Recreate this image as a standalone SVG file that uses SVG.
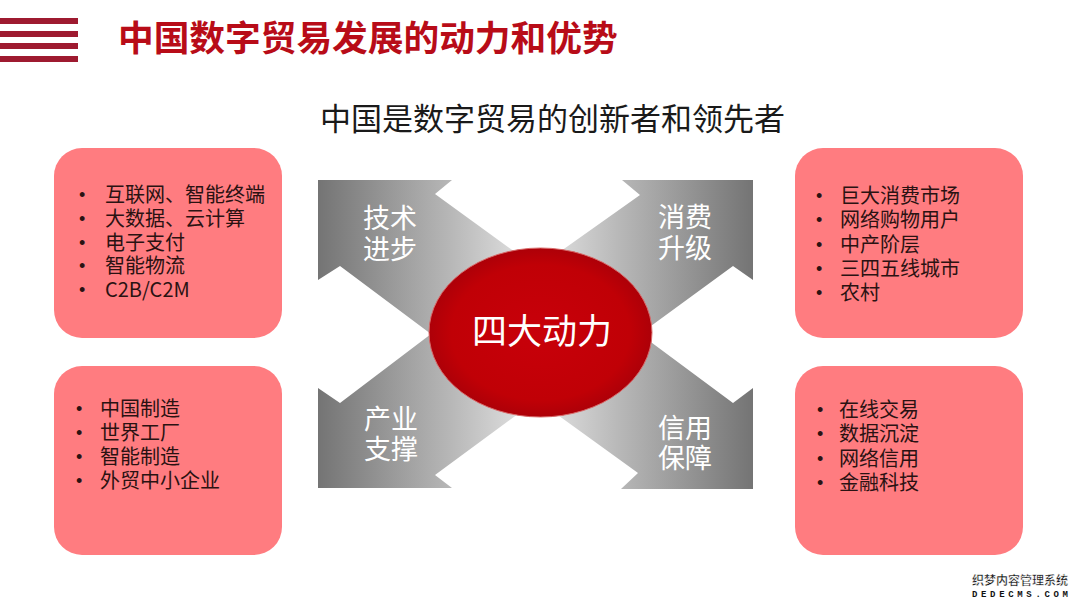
<svg xmlns="http://www.w3.org/2000/svg" width="1080" height="608" viewBox="0 0 1080 608">
<defs>
<style>
.cjk{font-family:"Noto Sans CJK SC","Noto Sans",sans-serif}
.box{fill:#ff7c80}
.item{font-size:20px;fill:#2a1212}
.bul{font-family:"Liberation Sans",sans-serif;font-size:18px;fill:#2a1212}
.lab{font-size:27px;fill:#ffffff;text-anchor:middle}
.bar{fill:#9e1a30}
</style>
<linearGradient id="gx" gradientUnits="userSpaceOnUse" x1="318" y1="0" x2="753" y2="0">
<stop offset="0" stop-color="#747474"/>
<stop offset="0.3" stop-color="#b6b6b6"/>
<stop offset="0.45" stop-color="#dadada"/>
<stop offset="0.55" stop-color="#dadada"/>
<stop offset="0.7" stop-color="#b6b6b6"/>
<stop offset="1" stop-color="#747474"/>
</linearGradient>
<radialGradient id="gr" cx="0.5" cy="0.5" r="0.5">
<stop offset="0" stop-color="#c8000a"/>
<stop offset="0.8" stop-color="#c00006"/>
<stop offset="1" stop-color="#ad0008"/>
</radialGradient>
</defs>
<rect width="1080" height="608" fill="#ffffff"/>
<g id="header">
<rect class="bar" x="0" y="18" width="78" height="6"/>
<rect class="bar" x="0" y="31" width="78" height="6"/>
<rect class="bar" x="0" y="43" width="78" height="6"/>
<rect class="bar" x="0" y="56" width="78" height="6"/>
<text class="cjk" x="118" y="51" font-size="35.7" font-weight="700" fill="#b80c18">中国数字贸易发展的动力和优势</text>
</g>
<g id="subtitle">
<text class="cjk" x="320" y="130" font-size="31" fill="#1a1a1a">中国是数字贸易的创新者和领先者</text>
</g>
<g id="connectors">
<polygon fill="url(#gx)" points="318,180 452,180 435,194 537,268 640,195 622,180 753,180 753,280 733,266 640,334 733,403 753,388 753,489 621,489 638,473 537,400 435,475 452,488 318,488 318,388 340,403 431,334 340,266 318,280"/>
</g>
<g id="center">
<ellipse cx="540.5" cy="332.5" rx="111.5" ry="84.5" fill="url(#gr)" stroke="#d86a6a" stroke-width="1"/>
<text class="cjk" x="542" y="344" font-size="35" fill="#ffffff" text-anchor="middle">四大动力</text>
</g>
<g id="arrow-tech">
<text class="cjk lab" x="390" y="228">技术</text>
<text class="cjk lab" x="390" y="259">进步</text>
</g>
<g id="arrow-consume">
<text class="cjk lab" x="685" y="227">消费</text>
<text class="cjk lab" x="685" y="258">升级</text>
</g>
<g id="arrow-industry">
<text class="cjk lab" x="391" y="429">产业</text>
<text class="cjk lab" x="391" y="459">支撑</text>
</g>
<g id="arrow-credit">
<text class="cjk lab" x="685" y="438">信用</text>
<text class="cjk lab" x="685" y="468">保障</text>
</g>
<g id="box-tech">
<rect class="box" x="54" y="148" width="228" height="190" rx="28"/>
<text class="bul" x="79" y="201">•</text>
<text class="bul" x="79" y="225">•</text>
<text class="bul" x="79" y="249">•</text>
<text class="bul" x="79" y="272">•</text>
<text class="bul" x="79" y="296">•</text>
<text class="cjk item" x="105" y="202">互联网、智能终端</text>
<text class="cjk item" x="105" y="226">大数据、云计算</text>
<text class="cjk item" x="105" y="250">电子支付</text>
<text class="cjk item" x="105" y="273">智能物流</text>
<text class="cjk item" x="105" y="297">C2B/C2M</text>
</g>
<g id="box-industry">
<rect class="box" x="54" y="366" width="228" height="189" rx="28"/>
<text class="bul" x="76" y="415">•</text>
<text class="bul" x="76" y="439">•</text>
<text class="bul" x="76" y="463">•</text>
<text class="bul" x="76" y="487">•</text>
<text class="cjk item" x="100" y="416">中国制造</text>
<text class="cjk item" x="100" y="440">世界工厂</text>
<text class="cjk item" x="100" y="464">智能制造</text>
<text class="cjk item" x="100" y="488">外贸中小企业</text>
</g>
<g id="box-consume">
<rect class="box" x="795" y="148" width="228" height="190" rx="28"/>
<text class="bul" x="816" y="202">•</text>
<text class="bul" x="816" y="226">•</text>
<text class="bul" x="816" y="251">•</text>
<text class="bul" x="816" y="275">•</text>
<text class="bul" x="816" y="299">•</text>
<text class="cjk item" x="840" y="203">巨大消费市场</text>
<text class="cjk item" x="840" y="227">网络购物用户</text>
<text class="cjk item" x="840" y="252">中产阶层</text>
<text class="cjk item" x="840" y="276">三四五线城市</text>
<text class="cjk item" x="840" y="300">农村</text>
</g>
<g id="box-credit">
<rect class="box" x="795" y="366" width="228" height="189" rx="28"/>
<text class="bul" x="817" y="416">•</text>
<text class="bul" x="817" y="440">•</text>
<text class="bul" x="817" y="465">•</text>
<text class="bul" x="817" y="489">•</text>
<text class="cjk item" x="839" y="417">在线交易</text>
<text class="cjk item" x="839" y="441">数据沉淀</text>
<text class="cjk item" x="839" y="466">网络信用</text>
<text class="cjk item" x="839" y="490">金融科技</text>
</g>
<g id="watermark">
<text class="cjk" x="972" y="585" font-size="12" font-weight="700" fill="#111111" stroke="#ffffff" stroke-width="0.4" textLength="96" lengthAdjust="spacingAndGlyphs">织梦内容管理系统</text>
<text x="972" y="597" font-family="Liberation Mono, monospace" font-size="9" font-weight="700" fill="#111111" textLength="96" lengthAdjust="spacing">DEDECMS.COM</text>
</g>
</svg>
